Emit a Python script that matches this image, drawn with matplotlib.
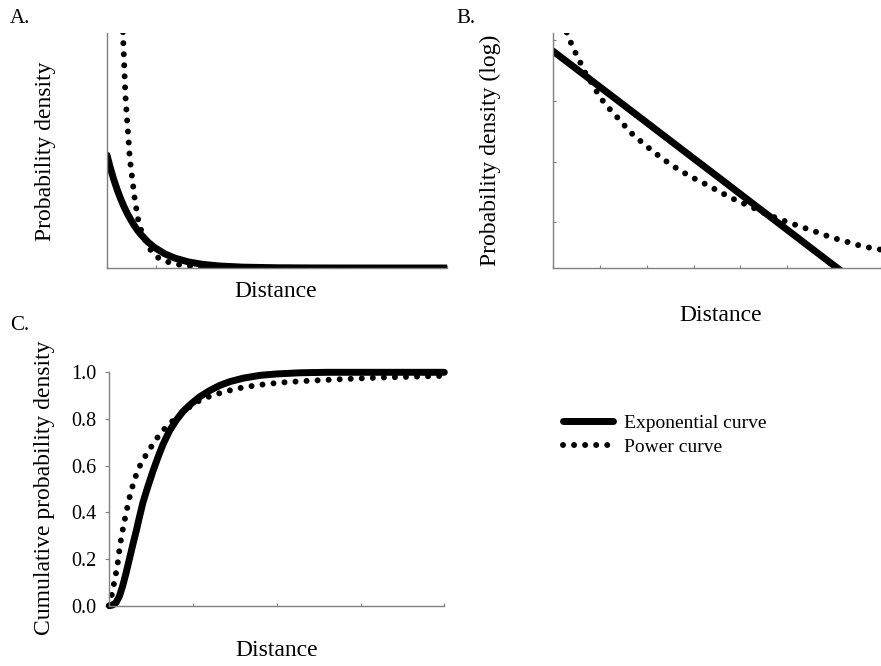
import matplotlib
matplotlib.use('Agg')
import matplotlib.pyplot as plt
import numpy as np
from matplotlib.lines import Line2D

plt.rcParams['font.family'] = ['Liberation Serif', 'DejaVu Serif']

# ---- data ----
# probability density (panels A linear, B log)
dist_exp = [0, 1, 2, 3, 4, 5, 6, 7, 8, 9, 10, 12, 14, 17, 20, 24, 28, 33, 40, 50, 60,
            70, 80, 90, 100]
dens_exp = [0.48, 0.425, 0.376, 0.333, 0.295, 0.261, 0.231, 0.205, 0.181, 0.160,
            0.142, 0.111, 0.0870, 0.0603, 0.0419, 0.0257, 0.0158, 0.00857, 0.00365,
            0.00108, 3.18e-4, 9.4e-5, 2.77e-5, 8.2e-6, 2.4e-6]
dist_pow = [4.18, 5.40, 6.71, 8.23, 9.45, 11.28, 13.02, 15.03, 17.38, 19.91, 22.26,
            24.79, 27.53, 30.18, 32.93, 35.67, 38.51, 41.55, 44.60, 47.65, 50.70,
            53.75, 56.62, 59.54, 62.41, 65.46, 68.38, 71.25, 74.09, 77.04, 80.09,
            82.93, 85.88, 88.81, 91.77, 94.82, 97.65, 100]
dens_pow = [1.19, 0.737, 0.465, 0.285, 0.182, 0.117, 0.0717, 0.044, 0.028, 0.018,
            0.0117, 0.00763, 0.00535, 0.00373, 0.0027, 0.00195, 0.00146, 0.0011,
            0.00085, 0.00067, 0.000505, 0.000397, 0.000311, 0.000262, 0.000208,
            0.000166, 0.000138, 0.000117, 0.0001, 8.5e-5, 7.2e-5, 6.1e-5, 5.2e-5,
            4.6e-5, 3.95e-5, 3.5e-5, 3.2e-5, 3.0e-5]
# cumulative probability density (panel C)
cdist_exp = [0, 1, 2, 3, 4, 5, 6, 7, 8, 9, 10, 11.5, 13, 14.5, 16, 18, 20, 22, 24.5,
             27, 30, 33, 36, 40, 45, 50, 57, 65, 80, 100]
cum_exp = [0, 0.003, 0.013, 0.04, 0.085, 0.14, 0.2, 0.26, 0.318, 0.38, 0.44, 0.51,
           0.575, 0.635, 0.69, 0.75, 0.795, 0.832, 0.866, 0.895, 0.922, 0.944, 0.96,
           0.975, 0.987, 0.993, 0.998, 1.0, 1.0, 1.0]
cdist_pow = [0, 0.8, 1.6, 2.4, 3.2, 4.2, 5.2, 6.3, 7.5, 8.8, 10.2, 11.8, 13.6, 15.6,
             18, 20.8, 23.8, 27, 30.5, 34, 38, 42, 47, 53, 60, 70, 80, 90, 100]
cum_pow = [0, 0.05, 0.11, 0.17, 0.26, 0.34, 0.41, 0.48, 0.54, 0.59, 0.628, 0.665,
           0.705, 0.745, 0.78, 0.815, 0.85, 0.88, 0.90, 0.915, 0.93, 0.94, 0.95,
           0.958, 0.964, 0.971, 0.977, 0.981, 0.985]
cum_ticks = [0.0, 0.2, 0.4, 0.6, 0.8, 1.0]
legend_labels = ['Exponential curve', 'Power curve']

# ---- style ----
AX_COL = '#808080'
solid_kw = dict(color='black', lw=5, solid_capstyle='round', solid_joinstyle='round')
dot_kw = dict(color='black', lw=4.3, linestyle=(0, (0.001, 1.85)), dash_capstyle='round')

fig = plt.figure(figsize=(8.81, 6.66), dpi=100)
W, H = 881.0, 666.0


def axes_px(left, right, top, bottom):
    return fig.add_axes([left / W, 1 - bottom / H, (right - left) / W, (bottom - top) / H])


def style(ax):
    for s in ('top', 'right'):
        ax.spines[s].set_visible(False)
    for s in ('left', 'bottom'):
        ax.spines[s].set_color(AX_COL)
        ax.spines[s].set_linewidth(1.0)
    ax.tick_params(colors=AX_COL, width=0.8)
    ax.patch.set_alpha(0)


# Panel A
axA = axes_px(107, 447, 33, 268)
style(axA)
axA.plot(dist_pow, dens_pow, **dot_kw)
axA.plot(dist_exp, dens_exp, **solid_kw)
axA.set_xlim(0, 100)
axA.set_ylim(0, 1.0)
axA.set_xticks(np.arange(0, 101, 100 / 7))
axA.set_yticks([])
axA.tick_params(axis='x', direction='in', length=2.5, labelbottom=False)
axA.set_xlabel('Distance', fontsize=17)
axA.xaxis.set_label_coords(0.497, -0.102)
axA.xaxis.label.set_va('center')
axA.set_ylabel('Probability density', fontsize=17)
axA.yaxis.set_label_coords(-0.182, 0.495)
axA.yaxis.label.set_va('center')

# Panel B
axB = axes_px(553, 881, 33, 268)
style(axB)
axB.plot(dist_pow, dens_pow, **dot_kw)
axB.plot(dist_exp, dens_exp, **solid_kw)
axB.set_yscale('log')
ymin, ymax = 1.23e-5, 1.16
axB.set_ylim(ymin, ymax)
axB.set_xlim(0, 100)
axB.set_xticks(np.arange(0, 101, 100 / 7))
L = np.log(ymax / ymin)
axB.set_yticks(ymin * np.exp(L * np.array([46, 106, 167, 228]) / 235.0))
axB.yaxis.set_minor_locator(matplotlib.ticker.NullLocator())
axB.tick_params(direction='in', length=2.5, labelbottom=False, labelleft=False)
axB.set_xlabel('Distance', fontsize=17)
axB.xaxis.set_label_coords(0.512, -0.204)
axB.xaxis.label.set_va('center')
axB.set_ylabel('Probability density (log)', fontsize=17)
axB.yaxis.set_label_coords(-0.192, 0.502)
axB.yaxis.label.set_va('center')

# Panel C
axC = axes_px(109.3, 444.3, 372.3, 605.7)
style(axC)
axC.plot(cdist_pow, cum_pow, clip_on=False, **dot_kw)
axC.plot(cdist_exp, cum_exp, clip_on=False, **solid_kw)
axC.set_xlim(0, 100)
axC.set_ylim(0, 1.0)
axC.set_xticks([0, 25, 50, 75, 100])
axC.set_yticks(cum_ticks)
axC.set_yticklabels([f'{v:.1f}' for v in cum_ticks])
axC.tick_params(axis='x', direction='in', length=2.5, labelbottom=False)
axC.tick_params(axis='y', direction='out', length=3, pad=6.5, labelsize=14.5,
                labelcolor='black')
axC.set_xlabel('Distance', fontsize=17)
axC.xaxis.set_label_coords(0.5, -0.19)
axC.xaxis.label.set_va('center')
axC.set_ylabel('Cumulative probability density', fontsize=17)
axC.yaxis.set_label_coords(-0.192, 0.504)
axC.yaxis.label.set_va('center')

# Panel letters
fig.text(10 / W, 1 - 18.5 / H, 'A.', fontsize=15, va='center', ha='left')
fig.text(456 / W, 1 - 18.5 / H, 'B.', fontsize=15, va='center', ha='left')
fig.text(10 / W, 1 - 326 / H, 'C.', fontsize=15, va='center', ha='left')

# Legend
handles = [Line2D([], [], **solid_kw), Line2D([], [], **dot_kw)]
fig.legend(handles, legend_labels, loc='upper left',
           bbox_to_anchor=(563 / W, 1 - 414 / H), frameon=False, fontsize=14,
           handlelength=2.55, handletextpad=0.6, labelspacing=0.35,
           borderpad=0, borderaxespad=0)

fig.savefig('out.png', dpi=100)
